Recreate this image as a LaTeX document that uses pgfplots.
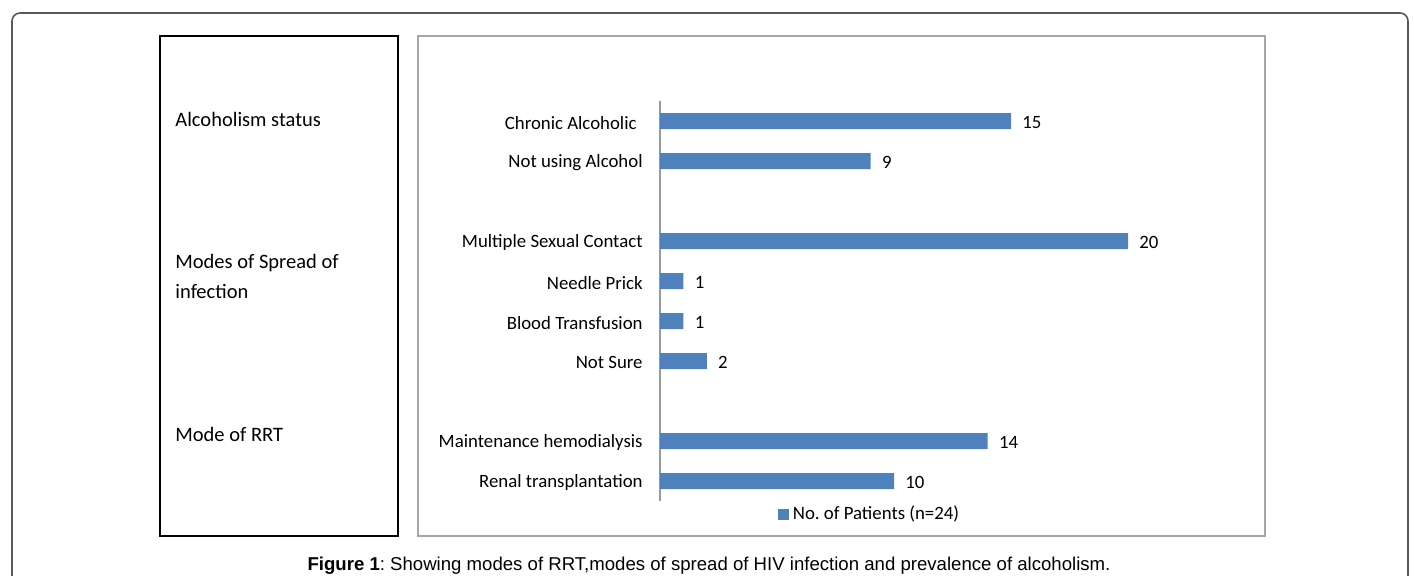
\documentclass[border=0pt]{standalone}
\usepackage{pgfplots}
\pgfplotsset{compat=1.18}
\usepackage{fontspec}
\setmainfont{Carlito}
\newfontfamily\arialfont{Liberation Sans}
\definecolor{barblue}{HTML}{4F81BD}
\frenchspacing
\begin{document}
\begin{tikzpicture}
\begin{scope}[x=0.5pt,y=-0.5pt]
\useasboundingbox (0,0) rectangle (1414,576);
\begin{scope}
\clip (0,0) rectangle (1414,576);
\draw[color=black!65, line width=0.8pt, rounded corners=4pt] (12,13) rectangle (1408,640);
\end{scope}
\draw[black, line width=0.6pt] (160,36) rectangle (398,536);
\draw[black!35, line width=0.7pt] (418,36) rectangle (1265,536);
\begin{scope}[every node/.style={anchor=base west, inner sep=0pt, font=\fontsize{10.25}{13}\selectfont}]
\node at (175,127) {Alcoholism status};
\node at (175,269) {Modes of Spread of};
\node at (175,299) {infection};
\node at (175,442) {Mode of RRT};
\end{scope}
\coordinate (axorigin) at (660,501);
\node[anchor=base, inner sep=0pt, font=\arialfont\fontsize{9.3}{11}\selectfont] at (709,571) {\textbf{Figure 1}: Showing modes of RRT,modes of spread of HIV infection and prevalence of alcoholism.};
\end{scope}
\begin{axis}[
  at={(axorigin)}, anchor=south west,
  scale only axis, width=292.5pt, height=200pt,
  xmin=0, xmax=25, ymin=-0.5, ymax=9.5, y dir=reverse,
  xbar, bar width=8pt,
  axis x line=none, axis y line=left,
  axis line style={-, draw=black!40, line width=0.6pt},
  xtick=\empty,
  ytick={0,1,3,4,5,6,8,9},
  yticklabels={Chronic Alcoholic\kern3pt\null,Not using Alcohol,Multiple Sexual Contact,Needle Prick,Blood Transfusion,Not Sure,Maintenance hemodialysis,Renal transplantation},
  major tick length=0pt,
  yticklabel style={anchor=east, inner sep=0pt, xshift=-8.5pt, yshift=-0.8pt, font=\fontsize{9.4}{11}\selectfont},
  /pgf/number format/assume math mode=true,
  nodes near coords,
  nodes near coords style={anchor=west, inner sep=0pt, xshift=5.5pt, yshift=-0.8pt, font=\fontsize{9.4}{11}\selectfont, text=black},
  clip=false,
  legend style={at={(axis cs:9.0,9.83)}, anchor=center, draw=none, fill=none, font=\fontsize{9.4}{11}\selectfont, inner sep=0pt},
  legend image code/.code={\fill[barblue] (0pt,-2.7pt) rectangle (5.4pt,2.7pt);},
]
\addplot[fill=barblue, draw=none] coordinates {(15,0) (9,1) (20,3) (1,4) (1,5) (2,6) (14,8) (10,9)};
\addlegendentry{No. of Patients (n=24)}
\end{axis}
\end{tikzpicture}
\end{document}
